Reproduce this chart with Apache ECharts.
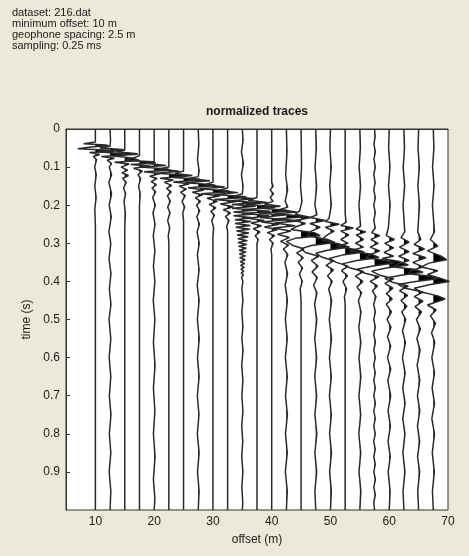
<!DOCTYPE html>
<html>
<head>
<meta charset="utf-8">
<script src="https://cdn.jsdelivr.net/npm/echarts@6/dist/echarts.min.js"></script>
<style>
html,body{margin:0;padding:0;background:#ECE9D8;}
#chart{width:469px;height:556px;}
</style>
</head>
<body>
<div id="chart"></div>
<script>
// ---------- header / labels ----------
const headerLines = ["dataset: 216.dat", "minimum offset: 10 m", "geophone spacing: 2.5 m", "sampling: 0.25 ms"];
const chartTitle = "normalized traces";
const xAxisName = "offset (m)";
const yAxisName = "time (s)";
const offsetTicks = [10, 20, 30, 40, 50, 60, 70];
const timeTicks = [0, 0.1, 0.2, 0.3, 0.4, 0.5, 0.6, 0.7, 0.8, 0.9];
const geophoneSpacing = 2.5;

// ---------- trace offsets (m) ----------
const offsets = [10, 12.5, 15, 17.5, 20, 22.5, 25, 27.5, 30, 32.5, 35, 37.5, 40, 42.5, 45, 47.5, 50, 52.5, 55, 57.5, 60, 62.5, 65, 67.5];

// ---------- traces: [time (s), normalized amplitude (in trace spacings)] ----------
const trace00 = [[0,0],[0.034,0],[0.039,-0.8],[0.042,0.7],[0.044,0.9],[0.047,-0.3],[0.052,-1.2],[0.056,1.0],[0.059,1.3],[0.062,-0.4],[0.067,0.3],[0.072,-0.15],[0.08,0.08],[0.1,-0.05],[0.12,0.06],[0.15,-0.04],[0.18,0.05],[0.21,-0.04],[0.25,0],[1,0]];
const trace01 = [[0,0],[0.03,0.03],[0.045,0],[0.05,-0.7],[0.054,0.8],[0.056,1.0],[0.06,-0.8],[0.065,0.9],[0.068,1.1],[0.072,-0.6],[0.077,0.3],[0.082,-0.2],[0.09,0.1],[0.1,-0.05],[0.12,0.1],[0.14,-0.08],[0.17,0.1],[0.2,-0.06],[0.23,0.08],[0.27,-0.08],[0.3,0.05],[0.34,-0.07],[0.38,0.06],[0.42,-0.05],[0.46,0.06],[0.5,-0.07],[0.55,0.05],[0.6,-0.06],[0.65,0.05],[0.7,-0.05],[0.75,0.06],[0.8,-0.05],[0.85,0.05],[0.9,-0.06],[0.95,0.05],[1,0]];
const trace02 = [[0,0],[0.055,0],[0.06,-0.6],[0.064,0.7],[0.066,0.9],[0.07,-0.9],[0.076,0.5],[0.08,0.8],[0.083,1.0],[0.087,-0.7],[0.092,0.3],[0.1,-0.25],[0.108,0.2],[0.115,-0.2],[0.122,0.25],[0.13,-0.15],[0.14,0.1],[0.155,-0.08],[0.17,0.06],[0.19,-0.05],[0.22,0.04],[0.26,0],[1,0]];
const trace03 = [[0,0],[0.07,0],[0.076,-0.4],[0.082,-1.0],[0.086,0.9],[0.089,1.1],[0.093,-0.6],[0.097,0.7],[0.103,-0.4],[0.11,0.2],[0.12,-0.1],[0.13,0.08],[0.15,-0.06],[0.17,0.05],[0.2,0],[1,0]];
const trace04 = [[0,0],[0.085,0],[0.09,-0.6],[0.096,0.8],[0.1,-0.9],[0.105,0.9],[0.108,1.1],[0.112,-0.7],[0.117,0.4],[0.124,-0.3],[0.13,0.2],[0.138,-0.2],[0.146,0.15],[0.155,-0.15],[0.165,0.1],[0.18,-0.1],[0.2,0.08],[0.22,-0.08],[0.25,0.06],[0.28,-0.06],[0.32,0.05],[0.36,-0.05],[0.4,0.05],[0.45,-0.06],[0.5,0.05],[0.56,-0.05],[0.62,0.06],[0.68,-0.05],[0.74,0.05],[0.8,-0.05],[0.86,0.06],[0.92,-0.05],[0.97,0.05],[1,0]];
const trace05 = [[0,0],[0.1,0],[0.105,-0.7],[0.111,0.7],[0.116,-0.8],[0.121,1.0],[0.124,1.2],[0.129,-0.6],[0.134,0.3],[0.14,-0.3],[0.148,0.2],[0.156,-0.15],[0.165,0.15],[0.175,-0.1],[0.19,0.1],[0.205,-0.08],[0.22,0.08],[0.24,-0.08],[0.26,0.06],[0.28,-0.04],[0.3,0],[1,0]];
const trace06 = [[0,0],[0.11,0],[0.117,-0.6],[0.122,0.6],[0.127,-0.7],[0.131,1.0],[0.134,1.2],[0.139,-0.7],[0.144,0.4],[0.15,-0.3],[0.158,0.2],[0.166,-0.2],[0.175,0.12],[0.19,-0.1],[0.205,0.08],[0.22,-0.05],[0.24,0],[1,0]];
const trace07 = [[0,0],[0.04,0.04],[0.08,-0.05],[0.11,0.06],[0.125,0],[0.13,-0.7],[0.136,0.8],[0.141,-0.9],[0.146,1.0],[0.149,1.2],[0.154,-0.7],[0.16,0.4],[0.166,-0.4],[0.173,0.3],[0.18,-0.2],[0.19,0.15],[0.2,-0.12],[0.215,0.1],[0.23,-0.1],[0.25,0.08],[0.27,-0.08],[0.3,0.07],[0.33,-0.06],[0.37,0.06],[0.41,-0.07],[0.45,0.06],[0.5,-0.06],[0.55,0.07],[0.6,-0.05],[0.65,0.06],[0.7,-0.06],[0.75,0.05],[0.8,-0.06],[0.85,0.06],[0.9,-0.05],[0.95,0.06],[1,0]];
const trace08 = [[0,0],[0.14,0],[0.146,-0.6],[0.152,0.8],[0.157,-0.9],[0.162,1.0],[0.165,1.2],[0.17,-0.8],[0.175,0.5],[0.182,-0.4],[0.19,0.3],[0.198,-0.25],[0.207,0.2],[0.216,-0.15],[0.226,0.1],[0.24,-0.08],[0.26,0.05],[0.28,0],[1,0]];
const trace09 = [[0,0],[0.155,0],[0.161,-0.6],[0.167,0.7],[0.172,-0.9],[0.177,1.1],[0.18,1.3],[0.185,-0.9],[0.19,0.6],[0.197,-0.5],[0.204,0.4],[0.212,-0.3],[0.22,0.2],[0.23,-0.15],[0.24,0.1],[0.255,-0.06],[0.27,0],[1,0]];
const trace10 = [[0,0],[0.03,0.05],[0.06,-0.06],[0.09,0.08],[0.12,-0.06],[0.15,0.05],[0.17,0],[0.177,-0.6],[0.183,0.8],[0.188,-0.8],[0.193,1.0],[0.198,-0.7],[0.203,0.9],[0.208,-0.7],[0.213,0.8],[0.218,-0.6],[0.223,0.8],[0.228,-0.6],[0.233,0.7],[0.238,-0.5],[0.243,0.6],[0.248,-0.5],[0.253,0.55],[0.258,-0.45],[0.263,0.5],[0.268,-0.4],[0.273,0.45],[0.278,-0.35],[0.283,0.4],[0.288,-0.3],[0.293,0.35],[0.298,-0.3],[0.303,0.3],[0.308,-0.25],[0.313,0.28],[0.318,-0.22],[0.323,0.25],[0.328,-0.2],[0.333,0.22],[0.338,-0.18],[0.343,0.2],[0.348,-0.15],[0.353,0.16],[0.358,-0.12],[0.363,0.13],[0.368,-0.1],[0.373,0.1],[0.378,-0.08],[0.383,0.08],[0.39,-0.05],[0.4,0.04],[0.42,-0.03],[0.45,0.04],[0.48,-0.03],[0.52,0.04],[0.55,-0.03],[0.58,0.05],[0.62,-0.04],[0.66,0.04],[0.7,-0.03],[0.74,0.04],[0.78,-0.04],[0.82,0.03],[0.86,-0.04],[0.9,0.04],[0.94,-0.03],[0.98,0.03],[1,0]];
const trace11 = [[0,0],[0.18,0],[0.187,-0.6],[0.193,0.7],[0.198,-0.8],[0.203,1.0],[0.206,1.2],[0.211,-0.9],[0.216,0.9],[0.222,-0.8],[0.228,0.8],[0.234,-0.6],[0.24,0.5],[0.247,-0.4],[0.254,0.3],[0.262,-0.25],[0.27,0.2],[0.28,-0.12],[0.29,0.08],[0.3,0],[1,0]];
const trace12 = [[0,0],[0.14,0],[0.15,0.1],[0.16,-0.1],[0.17,0.12],[0.18,-0.1],[0.19,0.1],[0.197,-0.5],[0.203,0.6],[0.208,-0.7],[0.213,1.0],[0.216,1.2],[0.221,-0.9],[0.226,0.9],[0.232,-0.8],[0.238,1.0],[0.244,-0.7],[0.25,0.5],[0.257,-0.5],[0.264,0.4],[0.272,-0.3],[0.28,0.2],[0.29,-0.15],[0.3,0.1],[0.315,-0.05],[0.33,0],[1,0]];
const trace13 = [[0,0],[0.06,0.04],[0.12,-0.05],[0.16,0.08],[0.19,-0.08],[0.205,0.1],[0.212,-0.5],[0.218,0.7],[0.223,-0.8],[0.228,1.0],[0.231,1.2],[0.236,-0.9],[0.241,1.0],[0.247,-0.8],[0.254,0.6],[0.26,-0.9],[0.268,0.3],[0.276,-0.6],[0.285,0.2],[0.295,-0.4],[0.305,0.15],[0.315,-0.2],[0.33,0.1],[0.35,-0.1],[0.38,0.08],[0.41,-0.08],[0.45,0.07],[0.5,-0.07],[0.55,0.06],[0.6,-0.07],[0.65,0.06],[0.7,-0.06],[0.75,0.07],[0.8,-0.06],[0.85,0.06],[0.9,-0.07],[0.95,0.06],[1,0]];
const trace14 = [[0,0],[0.1,0.03],[0.15,-0.04],[0.19,0.06],[0.215,-0.1],[0.224,-0.4],[0.232,0.7],[0.24,-0.4],[0.248,0.3],[0.256,-0.3],[0.264,-0.7],[0.272,0.9],[0.28,1.3],[0.287,-0.4],[0.295,-1.0],[0.305,-0.6],[0.315,0.2],[0.325,-0.3],[0.338,0.15],[0.35,-0.2],[0.365,0.1],[0.38,-0.12],[0.4,0.08],[0.42,-0.06],[0.45,0],[1,0]];
const trace15 = [[0,0],[0.05,0.04],[0.1,-0.05],[0.15,0.06],[0.2,-0.06],[0.225,0.08],[0.232,-0.35],[0.24,0.65],[0.248,-0.4],[0.258,0.3],[0.268,-0.3],[0.28,-0.6],[0.29,0.8],[0.298,1.3],[0.306,-0.3],[0.314,-1.0],[0.324,-0.7],[0.334,0.2],[0.345,-0.3],[0.36,0.15],[0.375,-0.25],[0.39,0.1],[0.41,-0.15],[0.43,0.08],[0.46,-0.08],[0.5,0.07],[0.55,-0.07],[0.6,0.06],[0.65,-0.07],[0.7,0.06],[0.75,-0.06],[0.8,0.07],[0.85,-0.06],[0.9,0.06],[0.95,-0.06],[1,0]];
const trace16 = [[0,0],[0.05,-0.04],[0.1,0.05],[0.15,-0.05],[0.2,0.06],[0.235,-0.1],[0.243,-0.35],[0.25,0.6],[0.258,-0.35],[0.268,0.25],[0.28,-0.3],[0.292,-0.6],[0.302,0.6],[0.31,1.3],[0.318,-0.2],[0.326,-1.0],[0.336,-0.6],[0.346,0.2],[0.358,-0.3],[0.37,0.2],[0.385,-0.2],[0.4,0.12],[0.42,-0.12],[0.45,0.08],[0.5,-0.08],[0.55,0.07],[0.6,-0.07],[0.65,0.06],[0.7,-0.07],[0.75,0.06],[0.8,-0.06],[0.85,0.07],[0.9,-0.06],[0.95,0.06],[1,0]];
const trace17 = [[0,0],[0.22,0],[0.245,0.06],[0.253,-0.3],[0.26,0.55],[0.268,-0.3],[0.278,0.25],[0.29,-0.3],[0.3,0.2],[0.308,-0.6],[0.316,0.7],[0.323,1.3],[0.331,-0.2],[0.34,-1.1],[0.35,-0.6],[0.36,0.2],[0.372,-0.25],[0.385,0.15],[0.4,-0.15],[0.42,0.1],[0.44,-0.05],[0.46,0],[1,0]];
const trace18 = [[0,0],[0.05,0.04],[0.1,-0.05],[0.15,0.05],[0.2,-0.06],[0.255,0.05],[0.263,-0.25],[0.27,0.4],[0.278,-0.25],[0.29,0.25],[0.3,-0.3],[0.31,0.25],[0.32,-0.7],[0.329,0.8],[0.337,1.3],[0.345,-0.2],[0.354,-1.2],[0.364,-0.7],[0.374,0.25],[0.386,-0.3],[0.4,0.2],[0.415,-0.2],[0.43,0.12],[0.45,-0.1],[0.48,0.08],[0.52,-0.07],[0.56,0.07],[0.6,-0.06],[0.65,0.07],[0.7,-0.06],[0.75,0.06],[0.8,-0.07],[0.85,0.06],[0.9,-0.06],[0.95,0.07],[1,0]];
const trace19 = [[0,0],[0.02,0.04],[0.04,-0.04],[0.06,0.05],[0.08,-0.04],[0.1,0.05],[0.12,-0.05],[0.14,0.04],[0.16,-0.05],[0.18,0.05],[0.2,-0.05],[0.22,0.05],[0.24,-0.05],[0.26,0.05],[0.272,-0.2],[0.28,0.35],[0.29,-0.25],[0.3,0.25],[0.31,-0.3],[0.32,0.35],[0.33,-0.3],[0.338,-0.6],[0.345,0.8],[0.352,1.3],[0.36,-0.2],[0.368,-1.2],[0.378,-0.7],[0.388,0.3],[0.4,-0.3],[0.412,0.2],[0.425,-0.15],[0.44,0.1],[0.46,-0.06],[0.48,0.05],[0.5,-0.05],[0.52,0.05],[0.54,-0.05],[0.56,0.06],[0.58,-0.05],[0.6,0.05],[0.62,-0.06],[0.64,0.05],[0.66,-0.05],[0.68,0.05],[0.7,-0.05],[0.72,0.06],[0.74,-0.05],[0.76,0.05],[0.78,-0.05],[0.8,0.05],[0.82,-0.06],[0.84,0.05],[0.86,-0.05],[0.88,0.05],[0.9,-0.05],[0.92,0.06],[0.94,-0.05],[0.96,0.05],[0.98,-0.05],[1,0]];
const trace20 = [[0,0],[0.05,-0.04],[0.1,0.05],[0.15,-0.05],[0.2,0.06],[0.26,-0.06],[0.28,-0.2],[0.29,0.35],[0.3,-0.3],[0.312,0.3],[0.324,-0.35],[0.334,0.3],[0.34,-0.5],[0.348,0.7],[0.357,1.3],[0.365,-0.2],[0.373,-1.2],[0.383,-0.7],[0.393,0.3],[0.405,-0.3],[0.418,0.25],[0.432,-0.2],[0.446,0.2],[0.46,-0.2],[0.48,0.15],[0.5,-0.15],[0.52,0.12],[0.545,-0.12],[0.57,0.1],[0.6,-0.12],[0.63,0.1],[0.66,-0.1],[0.7,0.1],[0.74,-0.08],[0.78,0.08],[0.82,-0.08],[0.86,0.07],[0.9,-0.07],[0.95,0.06],[1,0]];
const trace21 = [[0,0],[0.05,0.04],[0.1,-0.05],[0.15,0.05],[0.2,-0.06],[0.27,0.06],[0.285,-0.2],[0.297,0.35],[0.31,-0.3],[0.322,0.35],[0.334,-0.35],[0.345,0.35],[0.354,-0.4],[0.362,-0.7],[0.368,0.7],[0.376,1.3],[0.384,-0.2],[0.392,-1.3],[0.402,-0.8],[0.412,0.3],[0.424,-0.3],[0.437,0.25],[0.45,-0.2],[0.465,0.2],[0.48,-0.15],[0.5,0.12],[0.53,-0.1],[0.56,0.1],[0.6,-0.1],[0.64,0.08],[0.68,-0.08],[0.72,0.08],[0.76,-0.08],[0.8,0.07],[0.85,-0.07],[0.9,0.07],[0.95,-0.06],[1,0]];
const trace22 = [[0,0],[0.05,-0.04],[0.1,0.05],[0.15,-0.05],[0.2,0.06],[0.27,-0.06],[0.29,0.15],[0.303,-0.3],[0.315,0.4],[0.327,-0.4],[0.338,0.5],[0.35,-0.4],[0.362,0.3],[0.372,-0.5],[0.38,-0.7],[0.386,0.7],[0.393,1.3],[0.4,-0.2],[0.408,-1.4],[0.418,-0.9],[0.428,0.3],[0.44,-0.3],[0.452,0.3],[0.466,-0.25],[0.48,0.2],[0.5,-0.15],[0.525,0.12],[0.55,-0.12],[0.58,0.1],[0.62,-0.1],[0.66,0.08],[0.7,-0.08],[0.74,0.08],[0.78,-0.08],[0.82,0.07],[0.86,-0.07],[0.9,0.07],[0.95,-0.06],[1,0]];
const trace23 = [[0,0],[0.05,0.04],[0.1,-0.05],[0.15,0.05],[0.2,-0.06],[0.27,0.08],[0.29,-0.2],[0.307,0.3],[0.32,-0.4],[0.333,0.5],[0.343,0.9],[0.352,-0.3],[0.362,-0.8],[0.372,0.3],[0.382,-0.4],[0.392,0.5],[0.4,1.1],[0.408,-0.2],[0.418,-1.3],[0.428,-0.8],[0.438,0.3],[0.446,0.8],[0.454,0.2],[0.462,-0.4],[0.475,0.2],[0.49,-0.2],[0.51,0.15],[0.535,-0.12],[0.56,0.1],[0.6,-0.1],[0.64,0.08],[0.68,-0.08],[0.72,0.08],[0.76,-0.1],[0.8,0.08],[0.85,-0.07],[0.9,0.07],[0.95,-0.06],[1,0]];

const traces = [trace00, trace01, trace02, trace03, trace04, trace05, trace06, trace07, trace08, trace09, trace10, trace11,
                trace12, trace13, trace14, trace15, trace16, trace17, trace18, trace19, trace20, trace21, trace22, trace23];

// ---------- build chart ----------
const FONT = "'Liberation Sans', Arial, sans-serif";
const TXT = '#1a1a1a';
const LINE = '#2a2a2a';

function toXY(off, tr) {
  return tr.map(p => [off + p[1] * geophoneSpacing, p[0]]);
}

// positive lobes -> polygons (in data space), baseline at trace offset
function positiveLobes(off, tr) {
  const lobes = [];
  let cur = null;
  for (let i = 0; i < tr.length; i++) {
    const t = tr[i][0], a = tr[i][1];
    if (a > 0) {
      if (!cur) {
        cur = [];
        if (i > 0) {
          const t0 = tr[i-1][0], a0 = tr[i-1][1];
          const tc = t0 + (t - t0) * (0 - a0) / (a - a0);
          cur.push([off, tc]);
        } else cur.push([off, t]);
      }
      cur.push([off + a * geophoneSpacing, t]);
    } else if (cur) {
      const t0 = tr[i-1][0], a0 = tr[i-1][1];
      const tc = t0 + (t - t0) * (a0) / (a0 - a);
      cur.push([off, tc]);
      lobes.push(cur);
      cur = null;
    }
  }
  if (cur) lobes.push(cur);
  return lobes;
}

const series = [];
series.push({
  type: 'custom',
  clip: true,
  silent: true,
  z: 2,
  data: offsets.map((o, i) => [o, 0, i]),
  renderItem: function (params, api) {
    const i = api.value(2);
    const lobes = positiveLobes(offsets[i], traces[i]);
    const children = lobes.map(l => ({
      type: 'polygon',
      shape: { points: l.map(p => api.coord(p)) },
      style: { fill: '#000', stroke: null }
    }));
    return { type: 'group', children: children };
  }
});
offsets.forEach((o, i) => {
  series.push({
    type: 'line',
    data: toXY(o, traces[i]),
    showSymbol: false,
    symbol: 'none',
    clip: true,
    silent: true,
    z: 3,
    lineStyle: { color: LINE, width: 1.5 }
  });
});

const chart = echarts.init(document.getElementById('chart'), null, { renderer: 'canvas' });
chart.setOption({
  animation: false,
  backgroundColor: '#ECE9D8',
  textStyle: { fontFamily: FONT },
  grid: { left: 66, top: 129, right: 21, bottom: 46, show: true, backgroundColor: '#ffffff', borderColor: '#333', borderWidth: 1 },
  xAxis: {
    type: 'value', min: 5, max: 70,
    name: xAxisName, nameLocation: 'middle', nameGap: 24,
    nameTextStyle: { color: TXT, fontSize: 12, fontFamily: FONT },
    axisLine: { show: true, lineStyle: { color: '#333', width: 1 } },
    axisTick: { show: false },
    axisLabel: { customValues: offsetTicks, color: TXT, fontSize: 12, fontFamily: FONT, margin: 6 },
    splitLine: { show: false }
  },
  yAxis: {
    type: 'value', min: 0, max: 1, inverse: true,
    name: yAxisName, nameLocation: 'middle', nameGap: 29, nameRotate: 90,
    nameTextStyle: { color: TXT, fontSize: 12, fontFamily: FONT },
    axisLine: { show: true, lineStyle: { color: '#333', width: 1 } },
    axisTick: { show: true, inside: true, length: 4, customValues: timeTicks, lineStyle: { color: '#333' } },
    axisLabel: { customValues: timeTicks, color: TXT, fontSize: 12, fontFamily: FONT, margin: 6 },
    splitLine: { show: false }
  },
  graphic: [
    { type: 'text', x: 257, y: 112, style: { text: chartTitle, font: "bold 12px " + FONT, fill: TXT, textAlign: 'center', textVerticalAlign: 'middle' } },
  ].concat(headerLines.map((s, k) => ({
    type: 'text', x: 12, y: 13 + k * 11, style: { text: s, font: "11px " + FONT, fill: TXT, textVerticalAlign: 'middle' }
  }))),
  series: series
});
</script>
</body>
</html>
